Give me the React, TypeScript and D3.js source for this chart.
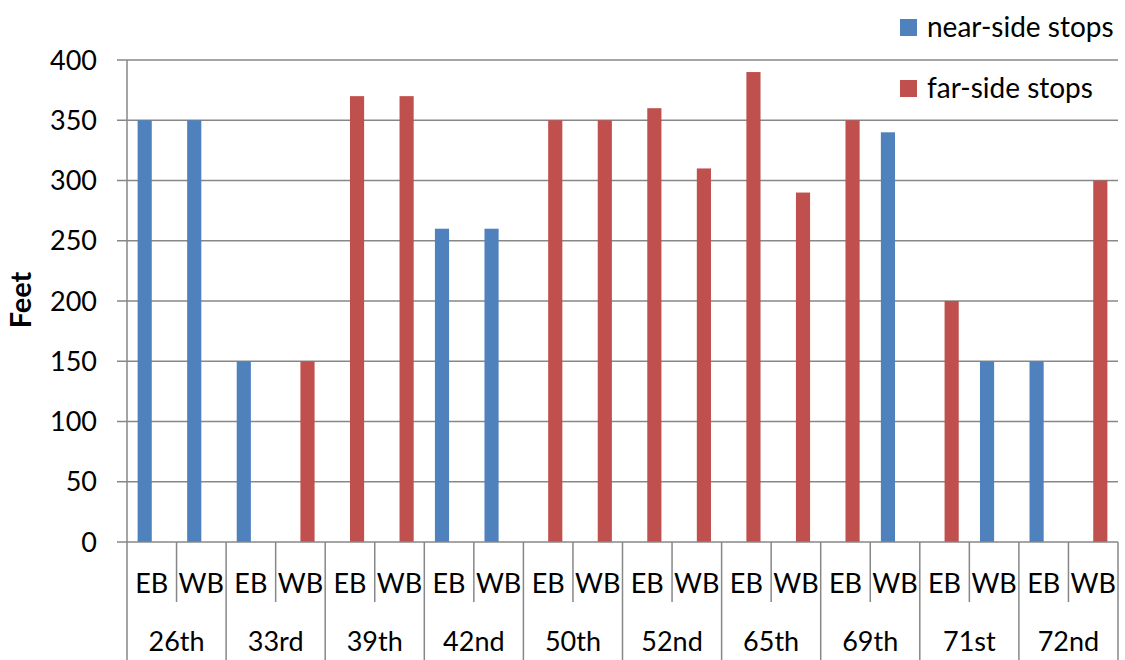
import React from "react";
import * as d3 from "d3";

const streets = ["26th", "33rd", "39th", "42nd", "50th", "52nd", "65th", "69th", "71st", "72nd"];
const directions = ["EB", "WB"];
const seriesNames = ["near-side stops", "far-side stops"];
// values per slot (street × direction), null where no bar
const nearSide: (number | null)[] = [350, 350, 150, null, null, null, 260, 260, null, null, null, null, null, null, null, 340, null, 150, 150, null];
const farSide: (number | null)[] = [null, null, null, 150, 370, 370, null, null, 350, 350, 360, 310, 390, 290, 350, null, 200, null, null, 300];
const yTicks = [0, 50, 100, 150, 200, 250, 300, 350, 400];
const colors = ["#4F81BD", "#C0504D"];

const W = 1125, H = 660;
const left = 127, right = 1118, top = 60, bottom = 542;
const font = "Lato, 'Open Sans', sans-serif";

export default function App() {
  const slots = streets.flatMap((s) => directions.map((d) => `${s}|${d}`));
  const x = d3.scaleBand<string>().domain(slots).range([left, right]).padding(0);
  const xs = d3.scaleBand<string>().domain(seriesNames).range([0, x.bandwidth()]).paddingInner(0).paddingOuter(0.75);
  const y = d3.scaleLinear().domain([0, 400]).range([bottom, top]);
  const g = d3.scaleBand<string>().domain(streets).range([left, right]).padding(0);
  const grid = "#878787";
  const series = [nearSide, farSide];

  return (
    <svg width={W} height={H} style={{ position: "absolute", left: 0, top: 0, background: "#fff" }} fontFamily={font}>
      {/* gridlines */}
      {yTicks.map((t) => (
        <g key={t}>
          {t > 0 && <line x1={left} x2={right} y1={y(t)} y2={y(t)} stroke={grid} strokeWidth={1.5} />}
          <line x1={left - 10} x2={left} y1={y(t)} y2={y(t)} stroke={grid} strokeWidth={1.5} />
          <text x={97} y={y(t)} dy="0.36em" textAnchor="end" fontSize={27} fill="#000">{t}</text>
        </g>
      ))}
      {/* bars */}
      {series.map((vals, si) =>
        vals.map((v, i) =>
          v == null ? null : (
            <rect key={`${si}-${i}`} x={(x(slots[i]) as number) + (xs(seriesNames[si]) as number)} width={xs.bandwidth()} y={y(v)} height={y(0) - y(v)} fill={colors[si]} />
          )
        )
      )}
      {/* axes */}
      <line x1={left} x2={left} y1={top} y2={H} stroke={grid} strokeWidth={1.5} />
      <line x1={left} x2={right} y1={bottom} y2={bottom} stroke={grid} strokeWidth={1.5} />
      {slots.map((s, i) => {
        const x0 = x(s) as number;
        const isGroup = i % 2 === 0;
        return (
          <g key={s}>
            {i > 0 && <line x1={x0} x2={x0} y1={bottom} y2={isGroup ? H : 602} stroke={grid} strokeWidth={1.5} />}
            <text x={x0 + x.bandwidth() / 2} y={583} dy="0.36em" textAnchor="middle" fontSize={27}>{s.split("|")[1]}</text>
          </g>
        );
      })}
      <line x1={right} x2={right} y1={bottom} y2={H} stroke={grid} strokeWidth={1.5} />
      {streets.map((s) => (
        <text key={s} x={(g(s) as number) + g.bandwidth() / 2} y={641} dy="0.36em" textAnchor="middle" fontSize={27}>{s}</text>
      ))}
      {/* y title */}
      <text transform={`translate(31,300) rotate(-90)`} textAnchor="middle" fontSize={29} fontWeight="bold">Feet</text>
      {/* legend */}
      {seriesNames.map((n, i) => (
        <g key={n} transform={`translate(900,${27 + i * 61})`}>
          <rect x={0} y={-8} width={17} height={17} fill={colors[i]} />
          <text x={27} y={0} dy="0.36em" fontSize={28}>{n}</text>
        </g>
      ))}
    </svg>
  );
}
